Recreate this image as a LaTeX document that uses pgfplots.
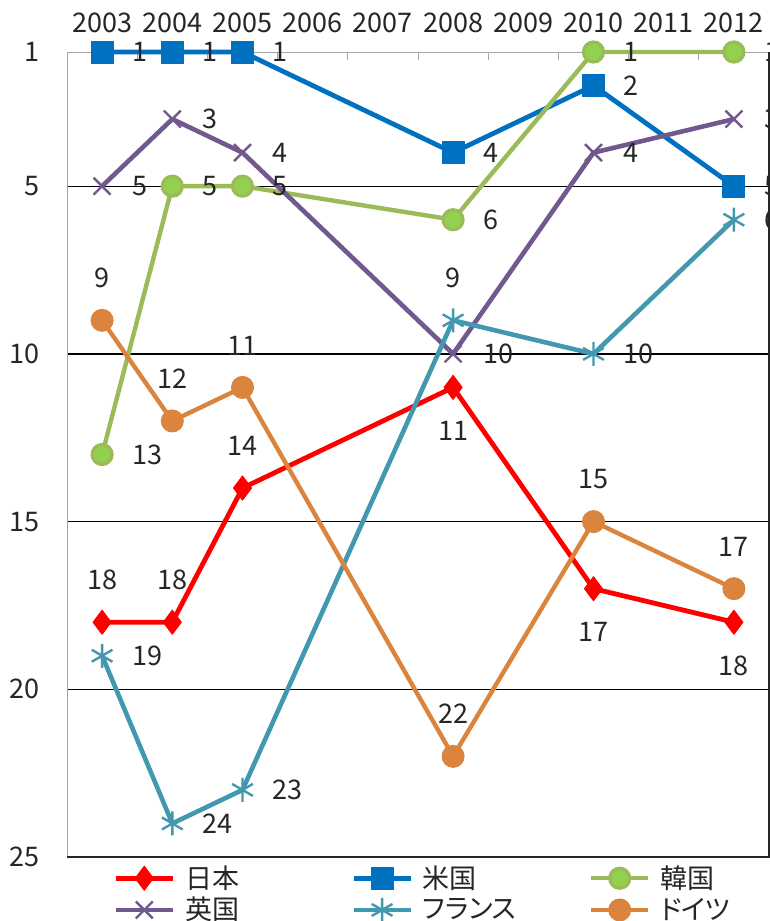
\documentclass[border=0pt]{standalone}
\usepackage{pgfplots}
\usepackage{pgfplotstable}
\pgfplotsset{compat=1.18}
\usepackage{fontspec}
\setmainfont{Noto Sans CJK JP}[RawFeature=+palt]
\definecolor{cjp}{HTML}{FF0000}
\definecolor{cus}{HTML}{0070C0}
\definecolor{kline}{HTML}{9BBB59}
\definecolor{kfill}{HTML}{92D050}
\definecolor{cuk}{HTML}{71588F}
\definecolor{cfr}{HTML}{4198AF}
\definecolor{cde}{HTML}{DB843D}
\newcommand\fs{\fontsize{13.5}{16}\selectfont}

\pgfplotstableread{
x y
2003 18
2004 18
2005 14
2008 11
2010 17
2012 18
}\tjp
\pgfplotstableread{
x y
2003 1
2004 1
2005 1
2008 4
2010 2
2012 5
}\tus
\pgfplotstableread{
x y
2003 13
2004 5
2005 5
2008 6
2010 1
2012 1
}\tkr
\pgfplotstableread{
x y
2003 5
2004 3
2005 4
2008 10
2010 4
2012 3
}\tuk
\pgfplotstableread{
x y
2003 19
2004 24
2005 23
2008 9
2010 10
2012 6
}\tfr
\pgfplotstableread{
x y
2003 9
2004 12
2005 11
2008 22
2010 15
2012 17
}\tde

\pgfplotsset{
  lblbase/.style={forget plot, draw=none, mark=none,
    nodes near coords={\pgfplotspointmeta},
    point meta=explicit symbolic,
    unbounded coords=discard},
  lblW/.style={lblbase, every node near coord/.append style={font=\fs, text=black!85, inner sep=0pt, anchor=west, xshift=15pt}},
  lblA/.style={lblbase, every node near coord/.append style={font=\fs, text=black!85, inner sep=0pt, anchor=south, yshift=16pt}},
  lblB/.style={lblbase, every node near coord/.append style={font=\fs, text=black!85, inner sep=0pt, anchor=north, yshift=-16.5pt}},
}

\begin{document}
\begin{tikzpicture}
\useasboundingbox (-33.5pt,-32pt) rectangle (351.5pt,428.5pt);
\begin{axis}[
  at={(0pt,0pt)}, anchor=south west,
  scale only axis, width=351pt, height=402.5pt,
  xmin=2002.5, xmax=2012.5,
  ymin=1, ymax=25, y dir=reverse,
  xtick={2003,...,2012},
  minor xtick={2002.5,2003.5,...,2012.5},
  ytick={1,5,10,15,20,25},
  extra y ticks={5,10,15,20},
  extra y tick labels={},
  extra y tick style={grid=major},
  major grid style={black, line width=0.65pt},
  xtick pos=right, xticklabel pos=right,
  ytick pos=left,
  tick align=inside,
  major tick length=0pt,
  minor tick length=4pt,
  minor tick style={gray!70, line width=0.5pt},
  axis line style={draw=none},
  /pgf/number format/assume math mode=true,
  xticklabel={\pgfmathprintnumber[1000 sep={}]{\tick}},
  xticklabel style={font=\fs, inner sep=0pt, anchor=south, yshift=9.5pt, text=black!85},
  yticklabel style={font=\fs, inner sep=0pt, anchor=east, xshift=-13.5pt, text=black!85},
  clip=false,
  every axis plot/.append style={line join=round},
  legend columns=3,
  legend style={at={(axis description cs:0,0)}, anchor=north west, xshift=23pt, yshift=-4pt,
    draw=none, fill=none, inner sep=0pt, column sep=5pt, row sep=3pt,
    font=\fs, nodes={inner sep=0pt, text=black!85}},
  legend image code/.code={\draw[mark repeat=2,mark phase=2,#1] plot coordinates {(0pt,0pt) (14.25pt,0pt) (28.5pt,0pt)};},
]
\draw[gray!70, line width=0.5pt] (axis description cs:0,0) -- (axis description cs:0,1) -- (axis description cs:1,1);
\draw[black!85, line width=0.8pt] (axis description cs:0,0) -- (axis description cs:1,0) -- (axis description cs:1,1);

\addplot[color=cjp, line width=2.4pt, mark=diamond*, mark size=6pt, mark options={solid, line width=0.5pt}]
  table[x=x, y=y] {\tjp};
\addlegendentry{\makebox[78pt][l]{日本}}
\addplot[color=cus, line width=2.4pt, mark=square*, mark size=5.5pt, mark options={solid, line width=0.5pt}]
  table[x=x, y=y] {\tus};
\addlegendentry{\makebox[78pt][l]{米国}}
\addplot[color=kline, line width=2.2pt, mark=*, mark size=5pt, mark options={solid, fill=kfill, draw=kline, line width=1.6pt}]
  table[x=x, y=y] {\tkr};
\addlegendentry{\makebox[78pt][l]{韓国}}
\addplot[color=cuk, line width=2.3pt, mark=x, mark size=6pt, mark options={solid, line width=1.2pt}]
  table[x=x, y=y] {\tuk};
\addlegendentry{\makebox[78pt][l]{英国}}
\addplot[color=cfr, line width=2.3pt, mark=asterisk, mark size=6pt, mark options={solid, line width=1.2pt}]
  table[x=x, y=y] {\tfr};
\addlegendentry{\makebox[78pt][l]{フランス}}
\addplot[color=cde, line width=2.2pt, mark=*, mark size=5.5pt, mark options={solid, line width=0.5pt}]
  table[x=x, y=y] {\tde};
\addlegendentry{\makebox[78pt][l]{ドイツ}}

\addplot[lblA, restrict x to domain=2003:2005] table[x=x, y=y, meta=y] {\tjp};
\addplot[lblB, restrict x to domain=2007:2012] table[x=x, y=y, meta=y] {\tjp};
\addplot[lblW] table[x=x, y=y, meta=y] {\tus};
\addplot[lblW] table[x=x, y=y, meta=y] {\tkr};
\addplot[lblW] table[x=x, y=y, meta=y] {\tuk};
\addplot[lblW, restrict x to domain=2003:2005] table[x=x, y=y, meta=y] {\tfr};
\addplot[lblA, restrict x to domain=2007:2009] table[x=x, y=y, meta=y] {\tfr};
\addplot[lblW, restrict x to domain=2010:2012] table[x=x, y=y, meta=y] {\tfr};
\addplot[lblA] table[x=x, y=y, meta=y] {\tde};
\end{axis}
\end{tikzpicture}
\end{document}
